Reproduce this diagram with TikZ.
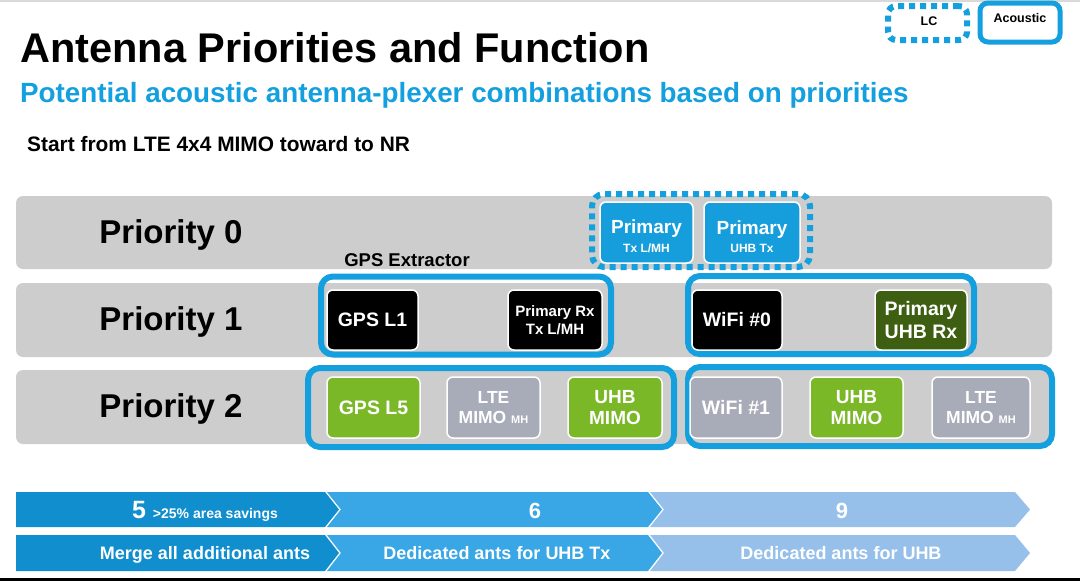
\documentclass[tikz,border=0pt]{standalone}
\usepackage{fontspec}
\setmainfont{Liberation Sans}
\definecolor{accent}{RGB}{20,160,222}
\definecolor{rowgray}{RGB}{205,205,205}
\definecolor{dkgreen}{RGB}{62,95,18}
\definecolor{ltgreen}{RGB}{122,184,40}
\definecolor{cellgray}{RGB}{168,171,184}
\definecolor{cellblue}{RGB}{22,158,220}
\definecolor{chevA}{RGB}{16,142,206}
\definecolor{chevB}{RGB}{57,166,230}
\definecolor{chevC}{RGB}{150,192,234}
\newcommand{\fs}[1]{\fontsize{#1}{#1}\selectfont}
\tikzset{
  rowbar/.style={fill=rowgray, rounded corners=7pt, minimum width=1036pt, minimum height=73pt, inner sep=0pt},
  prlabel/.style={font=\bfseries\fs{33}, text=black},
  grp/.style={draw=accent, line width=6pt, rounded corners=12pt, minimum height=78pt, inner sep=0pt},
  acgrp/.style={draw=accent, line width=6pt, dash pattern=on 6pt off 5pt, rounded corners=12pt, inner sep=0pt},
  cell/.style={draw=white, line width=1.5pt, rounded corners=6pt, text=white, align=center, inner sep=0pt, minimum height=60pt, font=\bfseries},
  celltext/.style={text=white, align=center, inner sep=0pt, font=\bfseries},
  chevtext/.style={text=white, font=\bfseries\fs{18}, inner sep=0pt},
}
\begin{document}
\begin{tikzpicture}[x=1pt, y=-1pt]
\useasboundingbox (0,0) rectangle (1080,581);
\fill[white] (0,0) rectangle (1080,581);
\fill[black!15] (0,0) rectangle (1080,2);
\fill[black] (0,578) rectangle (1080,581);

% titles
\node[anchor=base west, inner sep=0pt, font=\bfseries\fs{41.5}] (title) at (20,62) {Antenna Priorities and Function};
\node[anchor=base west, inner sep=0pt, font=\bfseries\fs{27.8}, text=accent] (subtitle) at (20,102) {Potential acoustic antenna-plexer combinations based on priorities};
\node[anchor=base west, inner sep=0pt, font=\bfseries\fs{20.9}] (start) at (27,151) {Start from LTE 4x4 MIMO toward to NR};

% legend
\node[acgrp, line width=6pt, minimum width=79pt, minimum height=34pt, rounded corners=8pt] (lc) at (927.5,23) {};
\node[font=\bfseries\fs{12.5}, inner sep=0pt] (lctext) at (929,21) {LC};
\node[draw=accent, line width=5pt, rounded corners=8pt, minimum width=80pt, minimum height=39pt, inner sep=0pt] (ac) at (1020,22.5) {};
\node[font=\bfseries\fs{12.5}, inner sep=0pt] (actext) at (1020,18) {Acoustic};

% rows
\node[rowbar] (row0) at (534,232.5) {};
\node[rowbar, minimum height=74pt] (row1) at (534,320) {};
\node[rowbar, minimum height=74pt] (row2) at (534,407) {};
\node[prlabel] (p0) at (171,235) {Priority 0};
\node[prlabel] (p1) at (171,322) {Priority 1};
\node[prlabel] (p2) at (171,409) {Priority 2};

% priority 0
\node[acgrp, minimum width=218pt, minimum height=73pt] (g0) at (701,230.5) {};
\node[cell, fill=cellblue, minimum width=93pt, minimum height=61pt] (ptx) at (646.5,232.5) {};
\node[celltext] (ptxt) at ([yshift=-4pt]ptx.center) {\fs{19}Primary\\[5pt]\fs{12}Tx L/MH};
\node[cell, fill=cellblue, minimum width=96pt, minimum height=61pt] (puhbtx) at (752,232.5) {};
\node[celltext] (puhbtxt) at ([yshift=-4pt]puhbtx.center) {\fs{19}Primary\\[5pt]\fs{12}UHB Tx};

% priority 1
\node[font=\bfseries\fs{18.5}, inner sep=0pt] (gpsx) at (407,260) {GPS Extractor};
\node[grp, minimum width=290pt, minimum height=78pt] (g1a) at (466,315.5) {};
\node[cell, fill=black, minimum width=91pt] (gpsl1) at (372.5,320) {\fs{19.5}GPS L1};
\node[cell, fill=black, minimum width=94pt] (prx) at (555,320) {\fs{15}Primary Rx\\[3pt]\fs{15}Tx L/MH};
\node[grp, minimum width=286pt, minimum height=78pt] (g1b) at (831,315) {};
\node[cell, fill=black, minimum width=90pt] (wifi0) at (737,320) {\fs{19.5}WiFi \#0};
\node[cell, fill=dkgreen, minimum width=92pt] (puhbrx) at (921,320) {\fs{19.5}Primary\\[5pt]\fs{19.5}UHB Rx};

% priority 2
\node[grp, minimum width=366pt, minimum height=79pt] (g2a) at (491,407.5) {};
\node[cell, fill=ltgreen, minimum width=93pt, minimum height=61pt] (gpsl5) at (373.5,407.5) {\fs{19.5}GPS L5};
\node[cell, fill=cellgray, minimum width=93pt, minimum height=61pt] (ltea) at (493.5,407.5) {\fs{17.5}LTE\\[7pt]\fs{17.5}MIMO \fs{11}MH};
\node[cell, fill=ltgreen, minimum width=94pt, minimum height=61pt] (uhba) at (615,407.5) {\fs{19}UHB\\[6pt]\fs{19}MIMO};
\node[grp, minimum width=364pt, minimum height=79pt] (g2b) at (870,406.5) {};
\node[cell, fill=cellgray, minimum width=92pt, minimum height=61pt] (wifi1) at (736,407.5) {\fs{19.5}WiFi \#1};
\node[cell, fill=ltgreen, minimum width=93pt, minimum height=61pt] (uhbb) at (856.5,407.5) {\fs{19}UHB\\[6pt]\fs{19}MIMO};
\node[cell, fill=cellgray, minimum width=98pt, minimum height=61pt] (lteb) at (981,407.5) {\fs{17.5}LTE\\[7pt]\fs{17.5}MIMO \fs{11}MH};

% chevrons
\fill[chevA] (16,492) -- (325,492) -- (339,509.5) -- (325,527) -- (16,527) -- cycle;
\fill[chevB] (327,492) -- (648,492) -- (662,509.5) -- (648,527) -- (327,527) -- (341,509.5) -- cycle;
\fill[chevC] (650,492) -- (1015,492) -- (1030,509.5) -- (1015,527) -- (650,527) -- (664,509.5) -- cycle;
\fill[chevA] (16,535) -- (325,535) -- (339,553) -- (325,571) -- (16,571) -- cycle;
\fill[chevB] (327,535) -- (648,535) -- (662,553) -- (648,571) -- (327,571) -- (341,553) -- cycle;
\fill[chevC] (650,535) -- (1015,535) -- (1030,553) -- (1015,571) -- (650,571) -- (664,553) -- cycle;

\node[chevtext, anchor=base] (c5) at (205,518) {\fs{25}5 \fs{14}>25\% area savings};
\node[chevtext, anchor=base] (c6) at (535,518) {\fs{22}6};
\node[chevtext, anchor=base] (c9) at (842,518) {\fs{22}9};
\node[chevtext, anchor=base] (m1) at (205,559) {Merge all additional ants};
\node[chevtext, anchor=base] (m2) at (497,559) {Dedicated ants for UHB Tx};
\node[chevtext, anchor=base] (m3) at (841,559) {Dedicated ants for UHB};
\end{tikzpicture}
\end{document}
